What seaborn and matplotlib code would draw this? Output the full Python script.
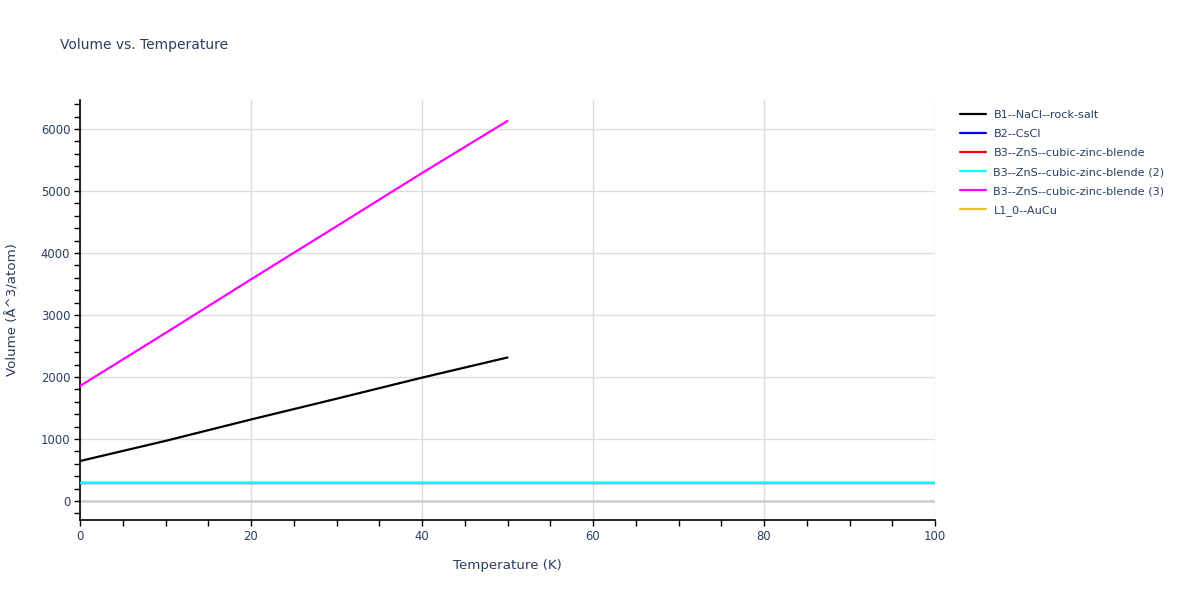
import pandas as pd
import numpy as np
import seaborn as sns
import matplotlib.pyplot as plt
from matplotlib.lines import Line2D
from matplotlib.ticker import MultipleLocator

# valores
series_nomes = ['B1--NaCl--rock-salt', 'B2--CsCl', 'B3--ZnS--cubic-zinc-blende',
                'B3--ZnS--cubic-zinc-blende (2)', 'B3--ZnS--cubic-zinc-blende (3)', 'L1_0--AuCu']
cores = ['#000000', '#0000ff', '#ff0000', '#00ffff', '#ff00ff', '#f0bf30']

temp_curta = [0, 10, 20, 30, 40, 50]
temp_longa = [0, 20, 40, 60, 80, 100]

vol_b1 = [645, 970, 1315, 1650, 1990, 2315]
vol_b2 = [290, 290, 290, 290, 290, 290]
vol_b3 = [290, 290, 290, 290, 290, 290]
vol_b3_2 = [290, 290, 290, 290, 290, 290]
vol_b3_3 = [1855, 2710, 3575, 4430, 5290, 6130]

dados = [
    (series_nomes[0], temp_curta, vol_b1),
    (series_nomes[1], temp_longa, vol_b2),
    (series_nomes[2], temp_longa, vol_b3),
    (series_nomes[3], temp_longa, vol_b3_2),
    (series_nomes[4], temp_curta, vol_b3_3),
]

linhas = []
for nome, t, v in dados:
    for a, b in zip(t, v):
        linhas.append({'serie': nome, 'Temperature': a, 'Volume': b})
df = pd.DataFrame(linhas)

sns.set_style('white')
plt.rcParams['font.family'] = ['DejaVu Sans']
cor_texto = '#2a3f5f'

fig = plt.figure(figsize=(12, 6), dpi=100)
ax = fig.add_axes([80 / 1200, 80 / 600, 855 / 1200, 420 / 600])

paleta = dict(zip(series_nomes, cores))
sns.lineplot(data=df, x='Temperature', y='Volume', hue='serie', palette=paleta,
             hue_order=series_nomes[:5], sort=False, estimator=None,
             linewidth=1.6, legend=False, ax=ax, zorder=3)

ax.set_xlim(0, 100)
ax.set_ylim(-306, 6468)
ax.xaxis.set_major_locator(MultipleLocator(20))
ax.xaxis.set_minor_locator(MultipleLocator(5))
ax.yaxis.set_major_locator(MultipleLocator(1000))
ax.yaxis.set_minor_locator(MultipleLocator(200))
ax.grid(True, which='major', color='#dcdcdc', linewidth=1)
ax.axhline(0, color='#d0d0d0', linewidth=2, zorder=1)

for lado in ['top', 'right']:
    ax.spines[lado].set_visible(False)
for lado in ['left', 'bottom']:
    ax.spines[lado].set_color('black')
    ax.spines[lado].set_linewidth(1.2)

ax.tick_params(which='both', direction='out', color='black', width=1,
               labelcolor=cor_texto, labelsize=8.4, left=True, bottom=True)
ax.tick_params(which='major', length=4, pad=3)
ax.tick_params(which='minor', length=4)

ax.set_xlabel('Temperature (K)', color=cor_texto, fontsize=9.6, labelpad=12)
ax.set_ylabel('Volume (Å^3/atom)', color=cor_texto, fontsize=9.6, labelpad=15)
fig.text(60 / 1200, 1 - 45 / 600, 'Volume vs. Temperature', color=cor_texto,
         fontsize=10, va='center', ha='left')

handles = [Line2D([0], [0], color=c, linewidth=1.6) for c in cores]
leg = ax.legend(handles, series_nomes, loc='upper left', bbox_to_anchor=(1.017, 1.0),
                frameon=False, fontsize=8.1, handlelength=2.3, labelspacing=0.8,
                borderaxespad=0.5, handletextpad=0.7)
for t in leg.get_texts():
    t.set_color(cor_texto)

fig.savefig('out.png', dpi=100)
